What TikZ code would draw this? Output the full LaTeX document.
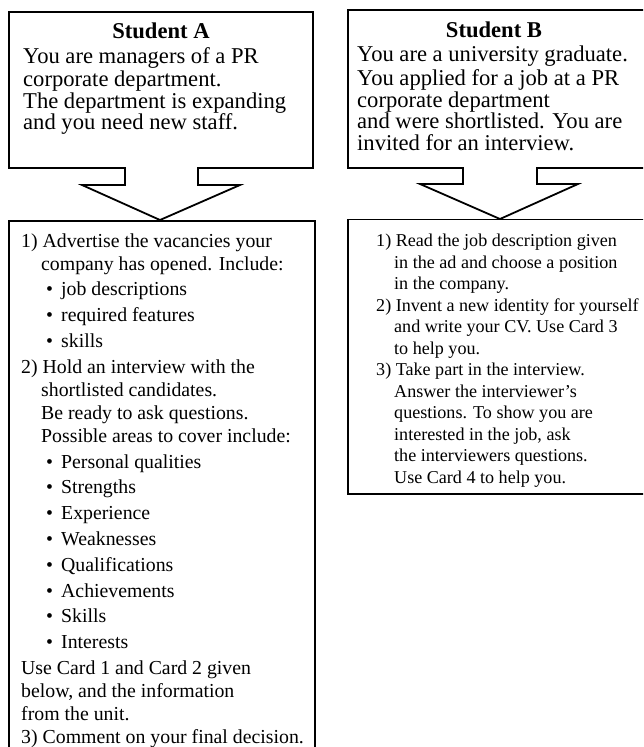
\documentclass[tikz,border=0pt]{standalone}
\usepackage{fontspec}
\setmainfont{Liberation Serif}
\newcommand{\indA}{\hspace*{20pt}}
\newcommand{\bulA}{\hspace*{25pt}\makebox[15pt][l]{\textbullet}}
\newcommand{\indB}{\hspace*{18pt}}
\begin{document}
\begin{tikzpicture}[x=1pt,y=-1pt,
  callout/.style={draw=black,line width=1.8pt,line join=miter},
  taskbox/.style={draw=black,line width=1.3pt},
  titletext/.style={anchor=base,inner sep=0pt,font=\fontsize{22.6}{21.8}\selectfont\bfseries},
  toptext/.style={anchor=north west,inner sep=0pt,align=left,font=\fontsize{22.6}{21.8}\selectfont},
  tasktextA/.style={anchor=north west,inner sep=0pt,align=left,font=\fontsize{19.8}{23.0}\selectfont},
  tasktextB/.style={anchor=north west,inner sep=0pt,align=left,font=\fontsize{18.1}{21.5}\selectfont}]
\useasboundingbox (0,0) rectangle (643,747);
\clip (0,0) rectangle (643,747);
\fill[white] (0,0) rectangle (643,747);

% Student A callout
\draw[callout] (9,12) -- (313,12) -- (313,168) -- (198,168) -- (198,185) -- (240,185)
  -- (160,220) -- (82,185) -- (125,185) -- (125,168) -- (9,168) -- cycle;
\node[titletext] (titleA) at (161,38) {Student A};
\node[toptext] (introA) at (23,47) {\strut You are managers of a PR\\
corporate department.\\
The department is expanding\\
and you need new staff.};

% Student A tasks
\draw[taskbox] (9,221) rectangle (315,770);
\node[tasktextA] (tasksA) at (21,230.8) {\strut 1) Advertise the vacancies your\\
\indA company has opened. Include:\\[2.8pt]
\bulA job descriptions\\[2.8pt]
\bulA required features\\[2.8pt]
\bulA skills\\[2.8pt]
2) Hold an interview with the\\
\indA shortlisted candidates.\\
\indA Be ready to ask questions.\\
\indA Possible areas to cover include:\\[2.8pt]
\bulA Personal qualities\\[2.8pt]
\bulA Strengths\\[2.8pt]
\bulA Experience\\[2.8pt]
\bulA Weaknesses\\[2.8pt]
\bulA Qualifications\\[2.8pt]
\bulA Achievements\\[2.8pt]
\bulA Skills\\[2.8pt]
\bulA Interests\\[2.8pt]
Use Card 1 and Card 2 given\\
below, and the information\\
from the unit.\\
3) Comment on your final decision.};

% Student B callout
\draw[callout] (348,10) -- (655,10) -- (655,168) -- (537,168) -- (537,184) -- (578,184)
  -- (500,219) -- (420,184) -- (463,184) -- (463,168) -- (348,168) -- cycle;
\node[titletext] (titleB) at (494,37) {Student B};
\node[toptext] (introB) at (357,46) {\strut You are a university graduate.\\
You applied for a job at a PR\\
corporate department\\
and were shortlisted. You are\\
invited for an interview.};

% Student B tasks
\draw[taskbox] (348,219.5) rectangle (655,494);
\node[tasktextB] (tasksB) at (376,231.4) {\strut 1) Read the job description given\\
\indB in the ad and choose a position\\
\indB in the company.\\
2) Invent a new identity for yourself\\
\indB and write your CV. Use Card 3\\
\indB to help you.\\
3) Take part in the interview.\\
\indB Answer the interviewer’s\\
\indB questions. To show you are\\
\indB interested in the job, ask\\
\indB the interviewers questions.\\
\indB Use Card 4 to help you.};
\end{tikzpicture}
\end{document}
